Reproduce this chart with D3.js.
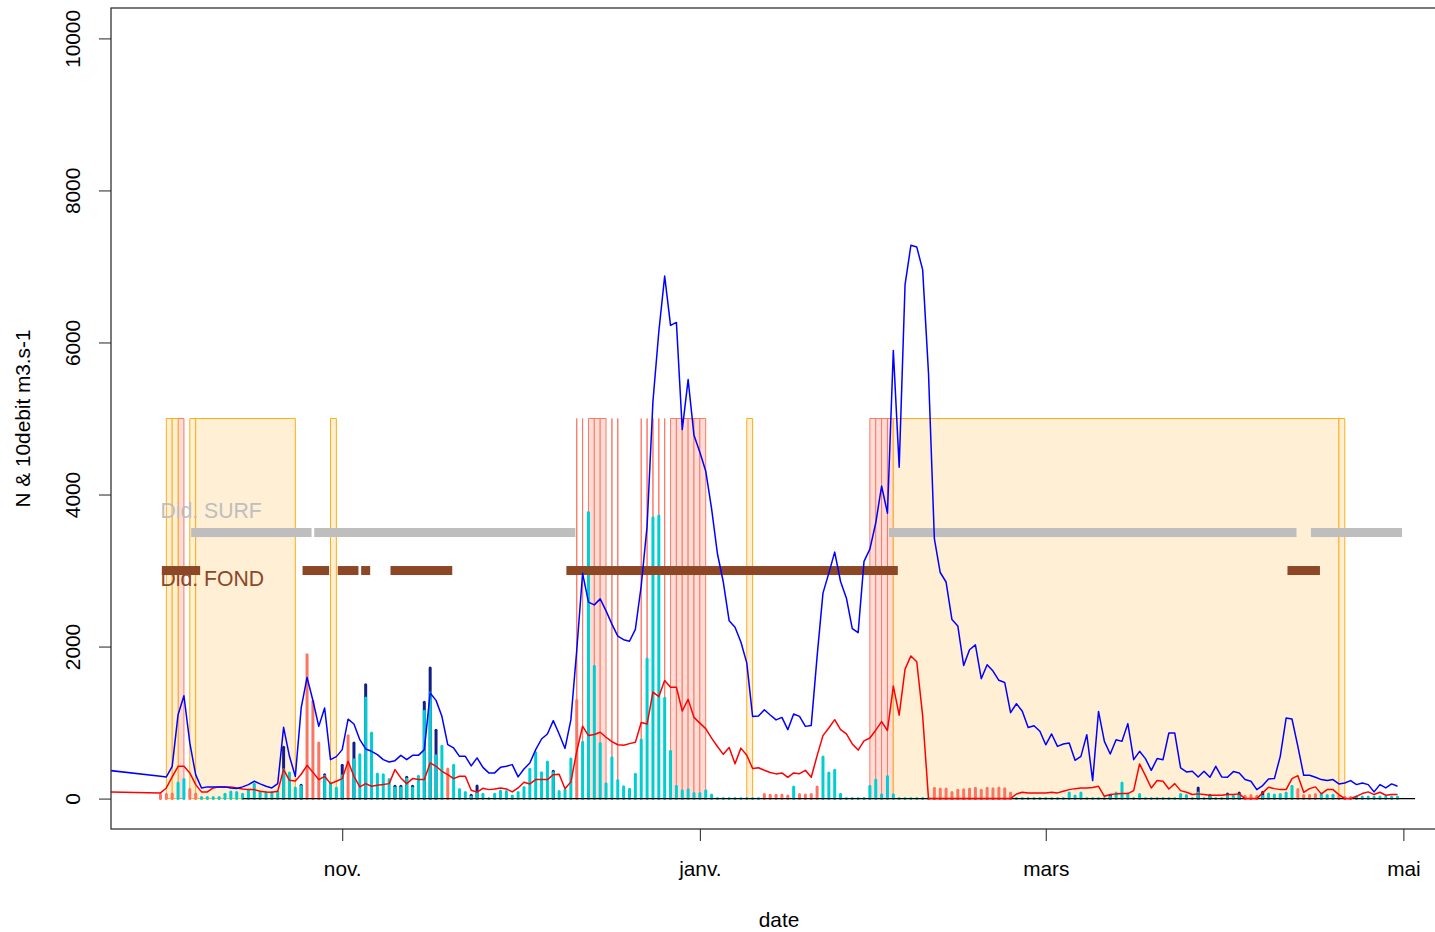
<!DOCTYPE html>
<html>
<head>
<meta charset="utf-8">
<script src="https://cdn.jsdelivr.net/npm/d3@7"></script>
<style>
  html, body { margin: 0; padding: 0; background: #fff; }
  svg { display: block; font-family: "Liberation Sans", Arial, Helvetica, sans-serif; }
</style>
</head>
<body>
<svg id="chart" width="1435" height="932"></svg>
<script>
// ---- daily series, 2017-10-01 .. 2018-04-30 ----
const firstDay = "2017-10-01";
const lastDay = "2018-04-30";

// reading taken before the season, only its segment into the frame is visible
const leadInDay = "2017-09-15";
const leadInFlow = 435;
const leadInN = 100;

// 10 x discharge (m3/s), blue line
const flow10 = [
  293, 285, 425, 1104, 1353, 732, 315, 140, 154, 154,
  154, 154, 140, 133, 154, 184, 228, 193, 162, 140,
  197, 937, 556, 293, 1192, 1594, 1290, 950, 1192, 512,
  552, 644, 1045, 981, 775, 653, 622, 578, 512, 482,
  499, 569, 512, 569, 569, 644, 1389, 1292, 1082, 710,
  666, 556, 556, 430, 535, 411, 338, 338, 411, 425,
  447, 285, 390, 469, 644, 784, 850, 1025, 850, 660,
  1035, 1950, 2963, 2585, 2548, 2627, 2470, 2295, 2137, 2090,
  2070, 2225, 2800, 3585, 5225, 6141, 6873, 6225, 6264, 4854,
  5512, 4779, 4557, 4310, 3815, 3221, 2849, 2339, 2255, 2060,
  1785, 1080, 1085, 1168, 1100, 1035, 1068, 907, 1113, 1081,
  950, 963, 1870, 2703, 2966, 3242, 2856, 2637, 2237, 2183,
  3120, 3282, 3625, 4112, 3755, 5894, 4359, 6760, 7279, 7255,
  6958, 5597, 3419, 2974, 2849, 2355, 2271, 1750, 1958, 2022,
  1577, 1761, 1677, 1556, 1528, 1130, 1248, 1150, 935, 958,
  886, 708, 850, 687, 719, 732, 503, 556, 841, 237,
  1147, 753, 587, 775, 753, 986, 512, 622, 526, 372,
  526, 512, 863, 863, 403, 351, 359, 285, 359, 280,
  425, 285, 280, 355, 338, 250, 228, 118, 171, 259,
  263, 556, 1060, 1047, 687, 306, 306, 280, 250, 237,
  250, 193, 206, 237, 184, 206, 184, 88, 184, 140,
  193, 162
];

// N, red line
const nLine = [
  75, 140, 285, 425, 425, 338, 184, 88, 88, 140,
  154, 154, 154, 140, 127, 118, 118, 96, 88, 83,
  96, 381, 240, 230, 320, 438, 345, 250, 293, 197,
  228, 263, 490, 293, 154, 197, 162, 175, 184, 197,
  381, 272, 197, 263, 250, 250, 469, 425, 359, 315,
  263, 293, 293, 110, 85, 135, 118, 127, 140, 127,
  88, 140, 214, 193, 250, 250, 250, 315, 320, 130,
  220, 620, 952, 829, 843, 873, 807, 749, 708, 703,
  723, 740, 1000, 980, 1401, 1342, 1552, 1464, 1464, 1152,
  1305, 1068, 993, 920, 795, 686, 582, 671, 459, 664,
  570, 396, 405, 373, 343, 325, 338, 280, 338, 328,
  372, 280, 565, 828, 929, 1038, 907, 850, 719, 638,
  759, 797, 900, 1012, 896, 1480, 1098, 1703, 1877, 1800,
  1092, 0, 0, 0, 0, 0, 0, 0, 0, 0,
  0, 0, 0, 0, 0, 0, 60, 83, 75, 75,
  75, 75, 83, 75, 96, 118, 131, 140, 140, 145,
  162, 30, 53, 62, 66, 66, 105, 456, 302, 140,
  237, 228, 127, 197, 105, 83, 53, 62, 53, 44,
  44, 44, 53, 53, 62, 0, 0, 0, 75, 149,
  131, 118, 118, 263, 302, 83, 131, 154, 62, 118,
  118, 53, 0, 0, 30, 66, 88, 53, 83, 44,
  53, 53
];

// turquoise daily bars (null = no bar)
const tealBars = [
  null, null, null, 206, 250, null, null, 15, 15, 15,
  15, 57, 88, 79, 57, 110, 188, 79, 79, 79,
  88, 381, 338, 140, 160, null, null, null, 293, 206,
  140, 300, null, 512, 578, 1323, 863, 324, 315, 250,
  140, 140, 259, 140, 293, 1148, 1389, 565, 688, null,
  438, 118, 79, 20, 79, 57, 0, 57, 100, 92,
  35, 79, 145, 385, 604, 341, 481, 341, 92, 110,
  520, null, 740, 3763, 1742, 726, 195, 538, 238, 157,
  122, 320, 772, 1837, 3694, 3719, 1319, 623, 162, 102,
  117, 68, 68, 102, 46, 0, 0, 0, 0, 0,
  0, 0, 0, null, null, null, null, null, 154, null,
  null, null, null, 547, 338, 372, 57, 0, 0, 0,
  0, 162, 245, 50, 291, 50, 0, 0, 0, 0,
  0, 0, null, null, null, null, null, null, null, null,
  null, null, null, null, null, null, 0, 0, 0, 0,
  0, 0, 0, 0, 0, 75, 35, 75, 0, 0,
  0, 0, 20, 75, 206, 62, 0, 53, 0, 0,
  0, 0, 0, 0, 53, 40, 0, 75, 0, 20,
  0, 0, 40, 31, 40, null, null, null, 30, 62,
  48, 53, 75, 162, null, null, null, null, 62, 40,
  44, null, null, null, 22, 22, 22, 22, 22, 22,
  22, 22
];

// dark blue bars, drawn under the turquoise ones
const navyDates = [
  "2017-10-22", "2017-10-25", "2017-10-29", "2017-11-01", "2017-11-03", "2017-11-05",
  "2017-11-10", "2017-11-11", "2017-11-12", "2017-11-13", "2017-11-15", "2017-11-16",
  "2017-11-17", "2017-11-23", "2017-11-24", "2017-12-07", "2018-03-12", "2018-03-27",
  "2018-03-29", "2018-04-01", "2018-04-03", "2018-04-07"
];
const navyValues = [
  674, 175, 315, 440, 731, 1498,
  162, 162, 281, 162, 1266, 1717,
  898, 44, 166, 360, 45, 140,
  40, 62, 75, 83
];

// salmon bars
const salmonDates = [
  "2017-10-01", "2017-10-02", "2017-10-03", "2017-10-06", "2017-10-07", "2017-10-26",
  "2017-10-27", "2017-10-28", "2017-11-02", "2017-11-19", "2017-12-11", "2018-01-12",
  "2018-01-13", "2018-01-14", "2018-01-15", "2018-01-16", "2018-01-18", "2018-01-19",
  "2018-01-20", "2018-01-21", "2018-02-10", "2018-02-11", "2018-02-12", "2018-02-13",
  "2018-02-14", "2018-02-15", "2018-02-16", "2018-02-17", "2018-02-18", "2018-02-19",
  "2018-02-20", "2018-02-21", "2018-02-22", "2018-02-23", "2018-04-04", "2018-04-05",
  "2018-04-06", "2018-04-13", "2018-04-14", "2018-04-15", "2018-04-16", "2018-04-20",
  "2018-04-21", "2018-04-22"
];
const salmonValues = [
  53, 53, 60, 118, 60, 1892,
  1279, 731, 828, 390, 1290, 53,
  44, 44, 48, 35, 53, 48,
  53, 154, 137, 125, 125, 80,
  111, 115, 125, 137, 111, 137,
  130, 140, 130, 75, 31, 40,
  31, 120, 40, 40, 53, 31,
  18, 15
];

// shaded periods (height 0..5000)
const orangePeriods = [
  ["2017-10-02", "2017-10-03"], ["2017-10-03", "2017-10-04"],
  ["2017-10-06", "2017-10-07"], ["2017-10-07", "2017-10-24"],
  ["2017-10-30", "2017-10-31"], ["2018-01-09", "2018-01-10"],
  ["2018-02-03", "2018-04-20"], ["2018-04-20", "2018-04-21"]
];
const redPeriods = [
  ["2017-10-04", "2017-10-05"],
  ["2017-12-11", "2017-12-11"], ["2017-12-12", "2017-12-12"],
  ["2017-12-13", "2017-12-14"], ["2017-12-14", "2017-12-15"], ["2017-12-15", "2017-12-16"],
  ["2017-12-17", "2017-12-17"], ["2017-12-18", "2017-12-18"],
  ["2017-12-22", "2017-12-22"], ["2017-12-23", "2017-12-23"], ["2017-12-24", "2017-12-24"],
  ["2017-12-25", "2017-12-25"], ["2017-12-26", "2017-12-26"],
  ["2017-12-27", "2017-12-28"], ["2017-12-28", "2017-12-29"], ["2017-12-29", "2017-12-30"],
  ["2017-12-30", "2017-12-31"], ["2017-12-31", "2018-01-01"], ["2018-01-01", "2018-01-02"],
  ["2018-01-30", "2018-01-31"], ["2018-01-31", "2018-02-01"],
  ["2018-02-01", "2018-02-02"], ["2018-02-02", "2018-02-03"]
];
const periodTop = 5000;

// surface / bottom sampling periods
const surfPeriods = [
  ["2017-10-07", "2017-10-26"], ["2017-10-28", "2017-12-10"],
  ["2018-02-03", "2018-04-12"], ["2018-04-16", "2018-04-30"]
];
const fondPeriods = [
  ["2017-10-02", "2017-10-07"], ["2017-10-26", "2017-10-29"], ["2017-11-01", "2017-11-03"],
  ["2017-11-05", "2017-11-05"], ["2017-11-10", "2017-11-19"], ["2017-12-10", "2018-02-03"],
  ["2018-04-12", "2018-04-16"]
];
const surfLevel = 3500, fondLevel = 3000;
const surfLabel = "Did. SURF", fondLabel = "Did. FOND";
const surfLabelLevel = 3790, fondLabelLevel = 2895;

// zero reference line
const zeroSpan = ["2017-10-15", "2018-05-03"];

// axes
const monthTicks = ["2017-11-01", "2018-01-01", "2018-03-01", "2018-05-01"];
const monthLabels = ["nov.", "janv.", "mars", "mai"];
const yTicks = [0, 2000, 4000, 6000, 8000, 10000];
const xTitle = "date";
const yTitle = "N & 10debit m3.s-1";

// ---- colours ----
const C = {
  orangeFill: "#FFEFD5", orangeLine: "#FFAE1A",
  redFill: "#FFDDD6", redLine: "#FA7A66",
  teal: "#00CED1", navy: "#101E85", salmon: "#FA7562",
  surf: "#BEBEBE", fond: "#8B4726",
  flow: "#0000FF", n: "#FF0000"
};

// ---- scales ----
const parse = d3.utcParse("%Y-%m-%d");
const box = { left: 111, top: 8, right: 1447, bottom: 829 };
const padX = (box.right - box.left) * 0.04 / 1.08;
const padY = (box.bottom - box.top) * 0.04 / 1.08;

const x = d3.scaleUtc()
  .domain([parse(firstDay), parse(lastDay)])
  .range([box.left + padX, box.right - padX]);
const y = d3.scaleLinear()
  .domain([0, 10000])
  .range([box.bottom - padY, box.top + padY]);

const day0 = parse(firstDay);
const days = flow10.map((_, i) => d3.utcDay.offset(day0, i));

const svg = d3.select("#chart");
const FONT = 20.8;

svg.append("defs").append("clipPath").attr("id", "plotClip")
  .append("rect")
  .attr("x", box.left).attr("y", box.top)
  .attr("width", box.right - box.left).attr("height", box.bottom - box.top);

const plot = svg.append("g").attr("clip-path", "url(#plotClip)");

// ---- shaded periods ----
function periodPath(p) {
  const x0 = x(parse(p[0])), x1 = x(parse(p[1]));
  const y0 = y(0), y1 = y(periodTop);
  return `M${x0},${y0}V${y1}H${x1}V${y0}Z`;
}
plot.append("g").selectAll("path").data(redPeriods).join("path")
  .attr("d", periodPath)
  .attr("fill", C.redFill).attr("stroke", C.redLine).attr("stroke-width", 1);
plot.append("g").selectAll("path").data(orangePeriods).join("path")
  .attr("d", periodPath)
  .attr("fill", C.orangeFill).attr("stroke", C.orangeLine).attr("stroke-width", 1);

// ---- bars (3 px wide, rounded ends) ----
function drawBars(data, color) {
  plot.append("g").selectAll("rect").data(data).join("rect")
    .attr("x", d => x(d.date) - 1.5)
    .attr("width", 3)
    .attr("y", d => y(d.value) - 1.5)
    .attr("height", d => y(0) - y(d.value) + 3)
    .attr("rx", 1.5)
    .attr("fill", color);
}
drawBars(navyDates.map((d, i) => ({ date: parse(d), value: navyValues[i] })), C.navy);
drawBars(days.map((d, i) => ({ date: d, value: tealBars[i] })).filter(d => d.value !== null), C.teal);
drawBars(salmonDates.map((d, i) => ({ date: parse(d), value: salmonValues[i] })), C.salmon);

// zero line
plot.append("line")
  .attr("x1", x(parse(zeroSpan[0]))).attr("x2", x(parse(zeroSpan[1])))
  .attr("y1", y(0)).attr("y2", y(0))
  .attr("stroke", "#000").attr("stroke-width", 1.3);

// ---- sampling period segments (9 px, square ends) ----
function drawSegments(periods, level, color) {
  plot.append("g").selectAll("rect").data(periods).join("rect")
    .attr("x", p => x(parse(p[0])) - 4.5)
    .attr("width", p => x(parse(p[1])) - x(parse(p[0])) + 9)
    .attr("y", y(level) - 4.5)
    .attr("height", 9)
    .attr("fill", color);
}
drawSegments(surfPeriods, surfLevel, C.surf);
drawSegments(fondPeriods, fondLevel, C.fond);

plot.append("text")
  .attr("x", x(day0)).attr("y", y(surfLabelLevel))
  .attr("dominant-baseline", "central")
  .attr("font-size", 21.2).attr("fill", C.surf)
  .text(surfLabel);
plot.append("text")
  .attr("x", x(day0)).attr("y", y(fondLabelLevel))
  .attr("dominant-baseline", "central")
  .attr("font-size", 21.2).attr("fill", C.fond)
  .text(fondLabel);

// ---- lines ----
const line = d3.line().x(p => x(p[0])).y(p => y(p[1]));
const flowPts = [[parse(leadInDay), leadInFlow]].concat(days.map((d, i) => [d, flow10[i]]));
const nPts = [[parse(leadInDay), leadInN]].concat(days.map((d, i) => [d, nLine[i]]));

plot.append("path").attr("d", line(nPts))
  .attr("fill", "none").attr("stroke", C.n).attr("stroke-width", 1.5)
  .attr("stroke-linejoin", "round");
plot.append("path").attr("d", line(flowPts))
  .attr("fill", "none").attr("stroke", C.flow).attr("stroke-width", 1.5)
  .attr("stroke-linejoin", "round");

// ---- frame ----
svg.append("rect")
  .attr("x", box.left).attr("y", box.top)
  .attr("width", box.right - box.left).attr("height", box.bottom - box.top)
  .attr("fill", "none").attr("stroke", "#222").attr("stroke-width", 1.2);

// ---- axes ----
const gy = svg.append("g")
  .attr("transform", `translate(${box.left},0)`)
  .call(d3.axisLeft(y).tickValues(yTicks).tickSize(12).tickSizeOuter(0).tickFormat(d3.format("d")));
gy.select(".domain").remove();
gy.selectAll(".tick line").attr("stroke", "#222");
gy.selectAll("text")
  .attr("transform", "rotate(-90)")
  .attr("x", 0).attr("y", -31.5).attr("dy", null)
  .attr("text-anchor", "middle")
  .attr("font-size", FONT)
  .attr("font-family", "Liberation Sans, Arial, sans-serif")
  .attr("fill", "#000");

const gx = svg.append("g")
  .attr("transform", `translate(0,${box.bottom})`)
  .call(d3.axisBottom(x)
    .tickValues(monthTicks.map(parse))
    .tickSize(12).tickSizeOuter(0)
    .tickFormat((d, i) => monthLabels[i]));
gx.select(".domain").remove();
gx.selectAll(".tick line").attr("stroke", "#222");
gx.selectAll("text")
  .attr("y", 46.5).attr("dy", null)
  .attr("font-size", FONT)
  .attr("font-family", "Liberation Sans, Arial, sans-serif")
  .attr("fill", "#000");

svg.append("text")
  .attr("x", (box.left + box.right) / 2).attr("y", 927)
  .attr("text-anchor", "middle").attr("font-size", FONT).attr("fill", "#000")
  .text(xTitle);
svg.append("text")
  .attr("transform", `translate(30,${(box.top + box.bottom) / 2}) rotate(-90)`)
  .attr("text-anchor", "middle").attr("font-size", FONT).attr("fill", "#000")
  .text(yTitle);
</script>
</body>
</html>
